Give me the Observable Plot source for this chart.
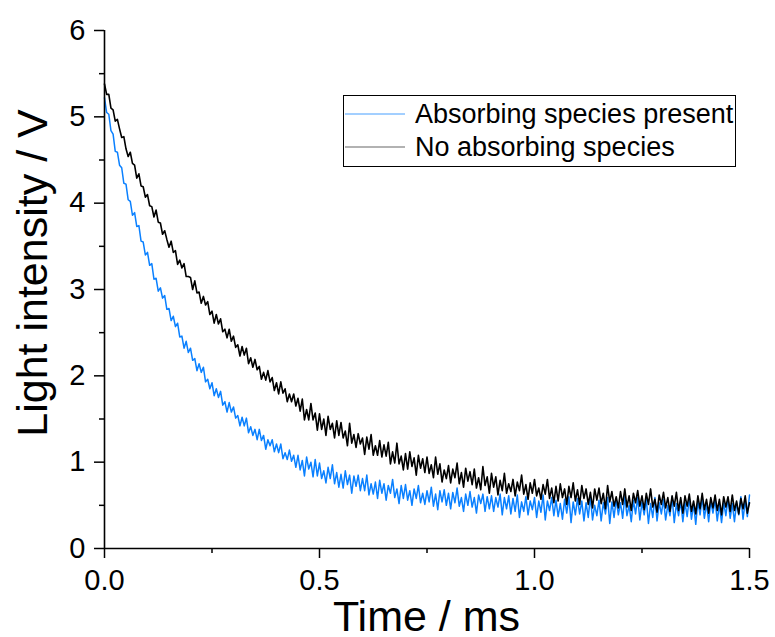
<!DOCTYPE html>
<html>
<head>
<meta charset="utf-8">
<script src="https://cdn.jsdelivr.net/npm/d3@7"></script>
<script src="https://cdn.jsdelivr.net/npm/@observablehq/plot@0.6"></script>
<style>
  html, body { margin: 0; padding: 0; background: white; }
  #chart { position: relative; width: 775px; height: 637px; }
</style>
</head>
<body>
<div id="chart"></div>
<script>
// Sampling interval of the traces (ms)
const dt = 0.005;

// Light intensity (V) with absorbing species present
const absorbing = [
  5.22,5.05,5.03,4.84,4.80,4.60,4.59,4.44,4.41,4.23,
  4.22,4.04,4.02,3.86,3.89,3.73,3.74,3.56,3.55,3.40,
  3.43,3.28,3.30,3.12,3.13,2.98,3.02,2.90,2.93,2.77,
  2.78,2.64,2.69,2.57,2.61,2.45,2.46,2.32,2.40,2.27,
  2.32,2.18,2.20,2.06,2.14,2.04,2.10,1.93,1.96,1.85,
  1.92,1.77,1.85,1.75,1.82,1.66,1.70,1.58,1.69,1.58,
  1.64,1.51,1.54,1.42,1.52,1.42,1.51,1.34,1.41,1.31,
  1.38,1.26,1.38,1.25,1.31,1.15,1.26,1.19,1.26,1.12,
  1.21,1.11,1.21,1.04,1.11,1.03,1.14,1.01,1.08,0.94,
  1.08,0.91,1.02,0.84,1.06,0.92,1.00,0.83,1.03,0.84,
  0.99,0.81,0.90,0.76,0.94,0.81,0.97,0.75,0.88,0.71,
  0.86,0.70,0.90,0.74,0.85,0.64,0.84,0.72,0.85,0.67,
  0.81,0.67,0.85,0.62,0.75,0.63,0.77,0.58,0.79,0.64,
  0.75,0.56,0.73,0.64,0.80,0.59,0.69,0.52,0.73,0.58,
  0.74,0.56,0.67,0.50,0.69,0.58,0.73,0.53,0.64,0.51,
  0.67,0.54,0.71,0.49,0.63,0.45,0.67,0.54,0.68,0.50,
  0.64,0.46,0.65,0.53,0.70,0.49,0.59,0.43,0.63,0.50,
  0.66,0.48,0.59,0.41,0.62,0.52,0.63,0.43,0.60,0.46,
  0.61,0.43,0.59,0.48,0.63,0.39,0.59,0.46,0.61,0.40,
  0.58,0.43,0.62,0.36,0.54,0.43,0.60,0.39,0.55,0.45,
  0.59,0.36,0.55,0.42,0.62,0.33,0.55,0.44,0.59,0.38,
  0.56,0.37,0.52,0.34,0.57,0.41,0.60,0.30,0.54,0.39,
  0.58,0.40,0.55,0.32,0.53,0.36,0.60,0.33,0.50,0.38,
  0.56,0.32,0.53,0.40,0.59,0.29,0.54,0.36,0.57,0.39,
  0.53,0.35,0.60,0.38,0.50,0.31,0.56,0.40,0.59,0.33,
  0.54,0.39,0.57,0.29,0.52,0.36,0.59,0.32,0.53,0.40,
  0.57,0.33,0.50,0.38,0.60,0.30,0.52,0.38,0.55,0.31,
  0.53,0.37,0.58,0.34,0.51,0.28,0.55,0.39,0.59,0.35,
  0.52,0.31,0.55,0.41,0.56,0.32,0.51,0.30,0.53,0.38,
  0.58,0.35,0.52,0.31,0.53,0.39,0.60,0.34,0.55,0.37,0.62
];

// Light intensity (V) with no absorbing species
const noAbsorbing = [
  5.38,5.26,5.26,5.10,5.08,4.95,4.97,4.86,4.76,4.77,
  4.63,4.54,4.59,4.46,4.44,4.29,4.34,4.20,4.19,4.07,
  4.10,3.97,3.96,3.84,3.92,3.78,3.77,3.64,3.68,3.58,
  3.49,3.56,3.43,3.45,3.29,3.34,3.25,3.30,3.15,3.15,
  3.14,3.00,3.10,2.96,2.97,2.84,2.92,2.82,2.86,2.71,
  2.75,2.61,2.71,2.60,2.66,2.51,2.54,2.44,2.54,2.40,
  2.46,2.33,2.36,2.23,2.34,2.24,2.32,2.14,2.21,2.10,
  2.19,2.07,2.11,1.96,2.04,1.95,2.06,1.93,1.98,1.83,
  1.92,1.79,1.93,1.80,1.85,1.70,1.79,1.70,1.79,1.65,
  1.74,1.59,1.73,1.49,1.61,1.49,1.68,1.49,1.57,1.37,
  1.56,1.38,1.50,1.31,1.53,1.38,1.45,1.28,1.48,1.31,
  1.46,1.28,1.36,1.19,1.45,1.22,1.32,1.17,1.33,1.21,
  1.28,1.09,1.29,1.15,1.32,1.08,1.19,1.08,1.25,1.06,
  1.20,1.07,1.23,0.98,1.12,0.99,1.22,0.98,1.07,0.91,
  1.10,0.92,1.12,0.95,1.05,0.85,1.08,0.93,1.04,0.88,
  1.06,0.87,0.97,0.82,1.06,0.86,0.98,0.77,0.91,0.81,
  0.96,0.76,0.92,0.82,0.99,0.75,0.88,0.71,0.93,0.78,
  0.89,0.74,0.92,0.70,0.82,0.68,0.95,0.73,0.83,0.64,
  0.87,0.71,0.83,0.62,0.79,0.67,0.87,0.64,0.75,0.66,
  0.80,0.61,0.77,0.67,0.85,0.63,0.74,0.57,0.76,0.64,
  0.80,0.61,0.70,0.57,0.74,0.63,0.80,0.58,0.70,0.53,
  0.72,0.55,0.75,0.59,0.69,0.51,0.72,0.59,0.76,0.55,
  0.68,0.51,0.73,0.58,0.69,0.51,0.65,0.47,0.69,0.56,
  0.70,0.52,0.64,0.46,0.73,0.54,0.66,0.49,0.60,0.47,
  0.66,0.51,0.69,0.48,0.61,0.44,0.64,0.53,0.67,0.49,
  0.61,0.45,0.64,0.51,0.69,0.48,0.57,0.42,0.62,0.51,
  0.65,0.47,0.59,0.43,0.61,0.49,0.65,0.44,0.59,0.41,
  0.61,0.49,0.63,0.43,0.55,0.40,0.61,0.46,0.64,0.45,
  0.57,0.41,0.59,0.47,0.62,0.44,0.57,0.39,0.60,0.48,
  0.60,0.43,0.62,0.44,0.55,0.40,0.58,0.46,0.61,0.41,0.53
];

const seriesNames = ["Absorbing species present", "No absorbing species"];
const seriesColors = ["#0A80FF", "#000000"];

const xTicks = [0, 0.5, 1.0, 1.5];
const xMinorTicks = [0.25, 0.75, 1.25];
const yTicks = [0, 1, 2, 3, 4, 5, 6];
const yMinorTicks = [0.5, 1.5, 2.5, 3.5, 4.5, 5.5];
const xLabel = "Time / ms";
const yLabel = "Light intensity / V";

const toRows = (vals) => vals.map((v, i) => ({t: i * dt, v}));
const rowsA = toRows(absorbing);
const rowsB = toRows(noAbsorbing);

const font = "'Liberation Sans', Arial, Helvetica, sans-serif";

const chart = Plot.plot({
  width: 775,
  height: 637,
  marginLeft: 104,
  marginRight: 26,
  marginTop: 30,
  marginBottom: 89,
  x: {domain: [0, 1.5]},
  y: {domain: [0, 6]},
  style: {fontFamily: font, fontSize: "29px", color: "black", background: "white", overflow: "visible"},
  marks: [
    Plot.line(rowsA, {x: "t", y: "v", stroke: seriesColors[0], strokeWidth: 1.5}),
    Plot.line(rowsB, {x: "t", y: "v", stroke: seriesColors[1], strokeWidth: 1.6}),
    Plot.axisX({ticks: xTicks, tickSize: 10, tickPadding: 11, strokeWidth: 1.5,
                tickFormat: d => d.toFixed(1), label: null}),
    Plot.axisX({ticks: xMinorTicks, tickSize: 5, strokeWidth: 1.5, tickFormat: () => "", label: null}),
    Plot.axisY({ticks: yTicks, tickSize: 10, tickPadding: 9, strokeWidth: 1.5,
                tickFormat: d => String(d), label: null}),
    Plot.axisY({ticks: yMinorTicks, tickSize: 5, strokeWidth: 1.5, tickFormat: () => "", label: null}),
    Plot.ruleX([0], {strokeWidth: 1.6}),
    Plot.ruleY([0], {strokeWidth: 1.6})
  ]
});

document.getElementById("chart").appendChild(chart);

const svg = d3.select(chart);

// Axis titles
svg.append("text").attr("x", 426.5).attr("y", 631)
  .attr("text-anchor", "middle").attr("font-family", font).attr("font-size", 43)
  .attr("fill", "black").text(xLabel);
svg.append("text").attr("transform", "translate(47,273) rotate(-90)")
  .attr("text-anchor", "middle").attr("font-family", font).attr("font-size", 43)
  .attr("fill", "black").text(yLabel);

// Legend box inside the plot area
const lg = svg.append("g").attr("font-family", font).attr("font-size", 27).attr("text-anchor", "start");
lg.append("rect").attr("x", 343.5).attr("y", 95.5).attr("width", 392).attr("height", 71)
  .attr("fill", "white").attr("stroke", "black").attr("stroke-width", 1);
seriesNames.forEach((name, i) => {
  const yLine = 114 + i * 33;
  lg.append("line").attr("x1", 345).attr("x2", 405).attr("y1", yLine).attr("y2", yLine)
    .attr("stroke", seriesColors[i]).attr("stroke-width", 1).attr("opacity", i === 0 ? 0.75 : 0.6);
  lg.append("text").attr("x", 415).attr("y", yLine + 9).attr("fill", "black").text(name);
});
</script>
</body>
</html>
